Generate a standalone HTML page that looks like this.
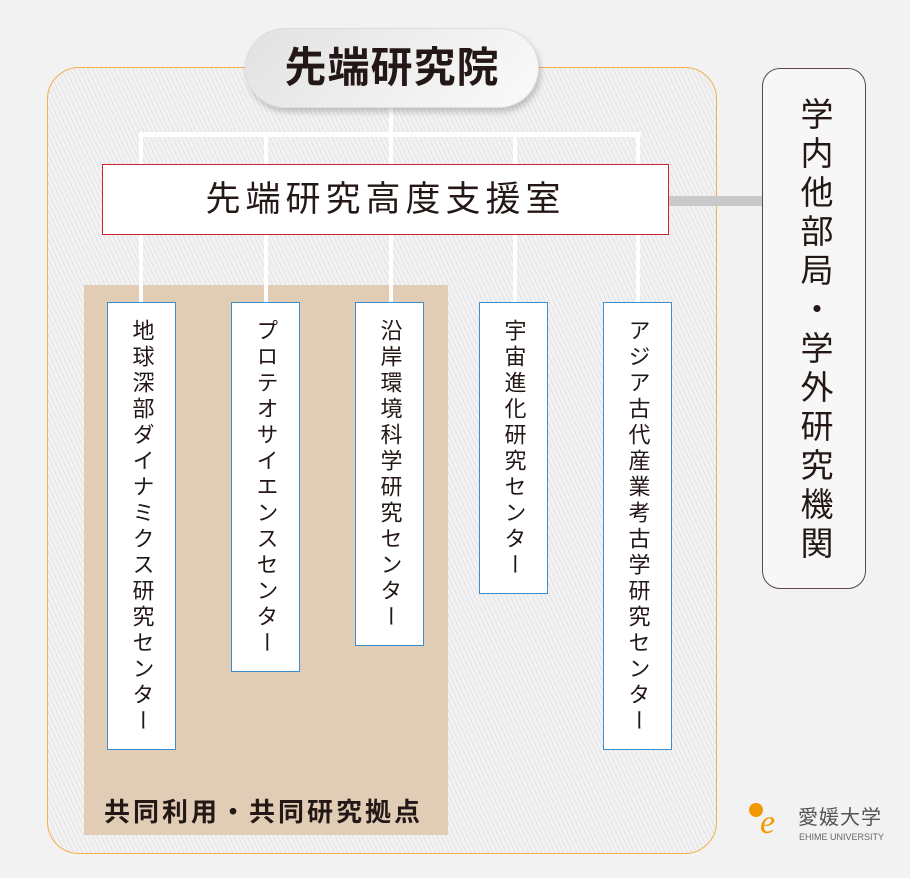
<!DOCTYPE html>
<html><head><meta charset="utf-8"><style>
html,body{margin:0;padding:0}
body{width:910px;height:878px;background:#f2f2f2;position:relative;overflow:hidden;font-family:"Liberation Sans","Noto Sans CJK JP",sans-serif;color:#231815}
.abs{position:absolute;box-sizing:border-box}
.outer{left:47px;top:67px;width:670px;height:787px;border:1.5px solid #f4b04a;border-radius:32px;
background:repeating-linear-gradient(65deg,#f2f2f2 0 3px,#e2e2e8 3px 4px)}
.pill{left:245px;top:28px;width:294px;height:80px;border-radius:40px;background:linear-gradient(135deg,#e2e2e2,#fafafa);border:1px solid #ddd;box-shadow:2px 4px 6px rgba(0,0,0,.2);font-size:42px;font-weight:bold;text-align:center;line-height:78px;letter-spacing:1px}
.line{background:#fff}
.sup{left:102px;top:164px;width:567px;height:71px;background:#fff;border:1.5px solid #c9232e;font-size:35px;text-align:center;line-height:70px;letter-spacing:5px}
.beige{left:84px;top:285px;width:364px;height:550px;background:#e1cdb5}
.c{background:#fff;border:1.5px solid #3b8fd0;top:302px;width:69px}
.c span{position:absolute;left:50%;top:16px;transform:translateX(-50%);writing-mode:vertical-rl;font-size:22px;letter-spacing:4px;line-height:24px}
.right{left:762px;top:68px;width:104px;height:521px;border:1.5px solid #5a4a42;border-radius:18px;background:#f7f7f7}
.right span{position:absolute;left:50%;top:28px;transform:translateX(-50%);writing-mode:vertical-rl;font-size:33px;letter-spacing:6px;line-height:36px}
</style></head><body>
<div class="abs outer"></div>
<div class="abs line" style="left:139px;top:132px;width:502px;height:5px"></div>
<div class="abs line" style="left:389px;top:105px;width:4px;height:30px"></div>
<div class="abs line" style="left:139px;top:132px;width:4px;height:172px"></div>
<div class="abs line" style="left:264px;top:132px;width:4px;height:172px"></div>
<div class="abs line" style="left:389px;top:132px;width:4px;height:172px"></div>
<div class="abs line" style="left:513px;top:132px;width:4px;height:172px"></div>
<div class="abs line" style="left:636px;top:132px;width:4px;height:172px"></div>
<div class="abs" style="left:668px;top:196px;width:95px;height:10px;background:#c9c9c9"></div>
<div class="abs beige"></div>
<div class="abs line" style="left:139px;top:234px;width:4px;height:70px"></div>
<div class="abs line" style="left:264px;top:234px;width:4px;height:70px"></div>
<div class="abs line" style="left:389px;top:234px;width:4px;height:70px"></div>
<div class="abs line" style="left:513px;top:234px;width:4px;height:70px"></div>
<div class="abs line" style="left:636px;top:234px;width:4px;height:70px"></div>
<div class="abs sup">先端研究高度支援室</div>
<div class="abs pill">先端研究院</div>
<div class="abs c" style="left:107px;height:448px"><span>地球深部ダイナミクス研究センター</span></div>
<div class="abs c" style="left:231px;height:370px"><span>プロテオサイエンスセンター</span></div>
<div class="abs c" style="left:355px;height:344px"><span>沿岸環境科学研究センター</span></div>
<div class="abs c" style="left:479px;height:292px"><span>宇宙進化研究センター</span></div>
<div class="abs c" style="left:603px;height:448px"><span>アジア古代産業考古学研究センター</span></div>
<div class="abs" style="left:104px;top:792px;font-size:26px;font-weight:bold;letter-spacing:3px;white-space:nowrap">共同利用・共同研究拠点</div>
<div class="abs right"><span>学内他部局・学外研究機関</span></div>
<div class="abs" style="left:749px;top:803px;width:14px;height:14px;border-radius:50%;background:#f39800"></div>
<div class="abs" style="left:760px;top:806px;font-size:34px;font-style:italic;color:#f39800;font-family:'Liberation Serif',serif;line-height:34px">e</div>
<div class="abs" style="left:798px;top:808px;font-size:20px;color:#555;letter-spacing:1px;line-height:20px">愛媛大学</div>
<div class="abs" style="left:799px;top:832px;font-size:9px;color:#666;line-height:10px">EHIME UNIVERSITY</div>
</body></html>
